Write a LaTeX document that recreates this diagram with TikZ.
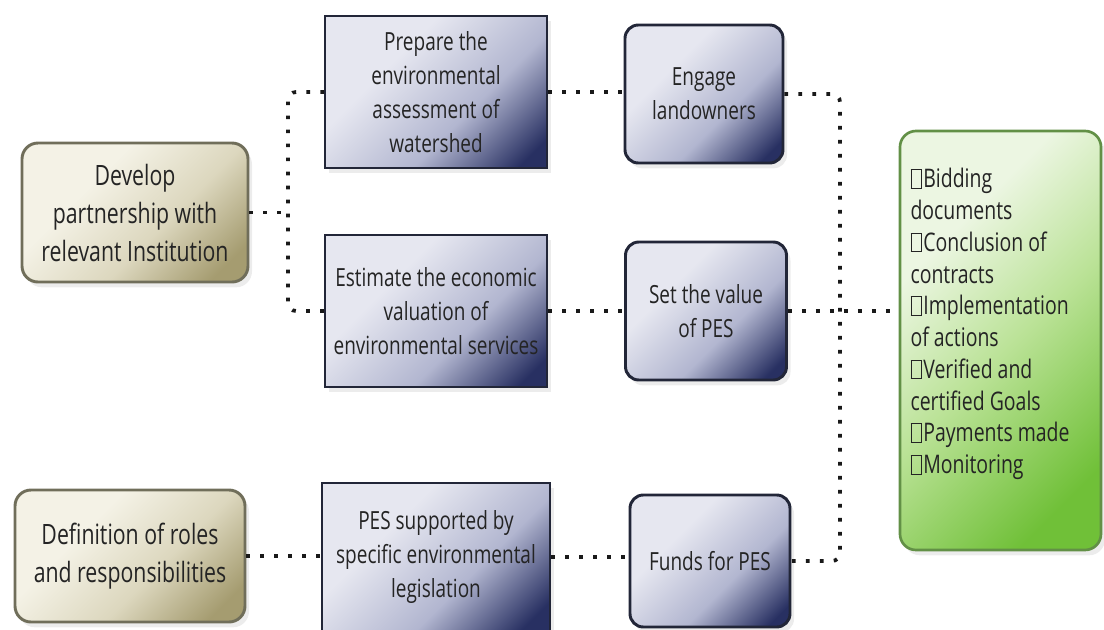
\documentclass[tikz,border=0pt]{standalone}
\usepackage{fontspec}
\setmainfont{Open Sans}[FakeStretch=0.76]
\usetikzlibrary{shadows}

\definecolor{tanL}{RGB}{244,242,230}
\definecolor{tanM}{RGB}{220,215,190}
\definecolor{tanD}{RGB}{165,156,112}
\definecolor{tanLine}{RGB}{112,110,90}
\definecolor{bluL}{RGB}{230,231,240}
\definecolor{bluM}{RGB}{178,182,208}
\definecolor{bluD}{RGB}{40,48,98}
\definecolor{bluLine}{RGB}{34,38,56}
\definecolor{grnL}{RGB}{236,246,226}
\definecolor{grnM}{RGB}{186,226,150}
\definecolor{grnD}{RGB}{112,192,56}
\definecolor{grnLine}{RGB}{98,144,70}
\definecolor{txtGray}{RGB}{36,36,36}

\pgfdeclareverticalshading{tanfade}{100bp}{color(0bp)=(tanD); color(22bp)=(tanD); color(42bp)=(tanM); color(64bp)=(tanL); color(100bp)=(tanL)}
\pgfdeclareverticalshading{blufade}{100bp}{color(0bp)=(bluD); color(20bp)=(bluD); color(40bp)=(bluM); color(64bp)=(bluL); color(100bp)=(bluL)}
\pgfdeclareverticalshading{grnfade}{100bp}{color(0bp)=(grnD); color(24bp)=(grnD); color(48bp)=(grnM); color(68bp)=(grnL); color(100bp)=(grnL)}

\newcommand{\tofu}{{\fboxsep=0pt\fboxrule=0.5pt\fbox{\rule{0pt}{0.7em}\hspace{0.4em}}}\hspace{0.05em}}

\tikzset{every picture/.style={line width=0.75pt}}
\tikzset{
  tanbox/.style={draw=tanLine, line width=2.2pt, rounded corners=12pt, shading=tanfade, shading angle=45,
    text=txtGray, align=center, inner sep=0pt, font=\fontsize{21}{28.5}\selectfont,
    drop shadow={shadow xshift=3pt, shadow yshift=-4pt, opacity=0.15}},
  blurect/.style={draw=bluLine, line width=1.5pt, shading=blufade, shading angle=45,
    text=txtGray, align=center, inner sep=0pt, font=\fontsize{18.75}{25.5}\selectfont,
    drop shadow={shadow xshift=3pt, shadow yshift=-4pt, opacity=0.15}},
  bluround/.style={blurect, line width=2.2pt, rounded corners=10pt},
  grnbox/.style={draw=grnLine, line width=2pt, rounded corners=12pt, shading=grnfade, shading angle=45,
    text=txtGray, inner sep=0pt, font=\fontsize{19.2}{23.8}\selectfont,
    drop shadow={shadow xshift=3pt, shadow yshift=-4pt, opacity=0.15}},
  dotlink/.style={line width=2.8pt, dash pattern=on 2.8pt off 7.7pt, color=black!90},
}

\begin{document}
\begin{tikzpicture}[x=0.75pt,y=0.75pt,yscale=-1,xscale=1]
\useasboundingbox (0,0) rectangle (1104,629);

%Shape: Rounded Rect [id:dev]
\node[tanbox, minimum width=169.5pt, minimum height=104.25pt] (dev) at (135,212.5) {Develop\\partnership with\\relevant Institution};
%Shape: Rounded Rect [id:roles]
\node[tanbox, minimum width=172.5pt, minimum height=99pt] (roles) at (130,556) {Definition of roles\\and responsibilities};

%Shape: Rectangle [id:prep]
\node[blurect, minimum width=166.5pt, minimum height=114pt] (prep) at (436,92) {Prepare the\\environmental\\assessment of\\watershed};
%Shape: Rectangle [id:est]
\node[blurect, minimum width=166.5pt, minimum height=114pt] (est) at (436,311) {Estimate the economic\\valuation of\\environmental services};
%Shape: Rectangle [id:pes]
\node[blurect, minimum width=171pt, minimum height=111pt] (pes) at (436,557) {PES supported by\\specific environmental\\legislation};

%Shape: Rounded Rect [id:eng]
\node[bluround, minimum width=118.5pt, minimum height=103.5pt] (eng) at (704,94) {Engage\\landowners};
%Shape: Rounded Rect [id:setv]
\node[bluround, minimum width=120.75pt, minimum height=103.5pt] (setv) at (706,311) {Set the value\\of PES};
%Shape: Rounded Rect [id:fund]
\node[bluround, minimum width=120pt, minimum height=99pt] (fund) at (710,561) {Funds for PES};

%Shape: Rounded Rect [id:grn]
\node[grnbox, minimum width=150.75pt, minimum height=314.25pt] (grn) at (1000.5,340.5) {\parbox[c][300pt][t]{135pt}{\raggedright\vspace*{21pt}%
\tofu Bidding\\documents\\\tofu Conclusion of\\contracts\\\tofu Implementation\\of actions\\\tofu Verified and\\certified Goals\\\tofu Payments made\\\tofu Monitoring}};

% bus lines
\coordinate (busL) at (288,0);
\coordinate (busR) at (840,0);

%Straight Lines [id:dev-bus]
\draw[dotlink] (dev.east) -- (dev.east -| busL);
%Straight Lines [id:bus-left]
\draw[dotlink, rounded corners=6pt] (prep.west) -- (prep.west -| busL) -- (est.west -| busL) -- (est.west);
%Straight Lines [id:prep-eng]
\draw[dotlink] (prep.east) -- (prep.east -| eng.west);
%Straight Lines [id:est-setv]
\draw[dotlink] (est.east) -- (est.east -| setv.west);
%Straight Lines [id:setv-grn]
\draw[dotlink] (setv.east) -- (setv.east -| grn.west);
%Straight Lines [id:bus-right]
\draw[dotlink, rounded corners=6pt] (eng.east) -- (eng.east -| busR) -- (fund.east -| busR) -- (fund.east);
%Straight Lines [id:roles-pes]
\draw[dotlink] (roles.east) -- (roles.east -| pes.west);
%Straight Lines [id:pes-fund]
\draw[dotlink] (pes.east) -- (pes.east -| fund.west);

\end{tikzpicture}
\end{document}
